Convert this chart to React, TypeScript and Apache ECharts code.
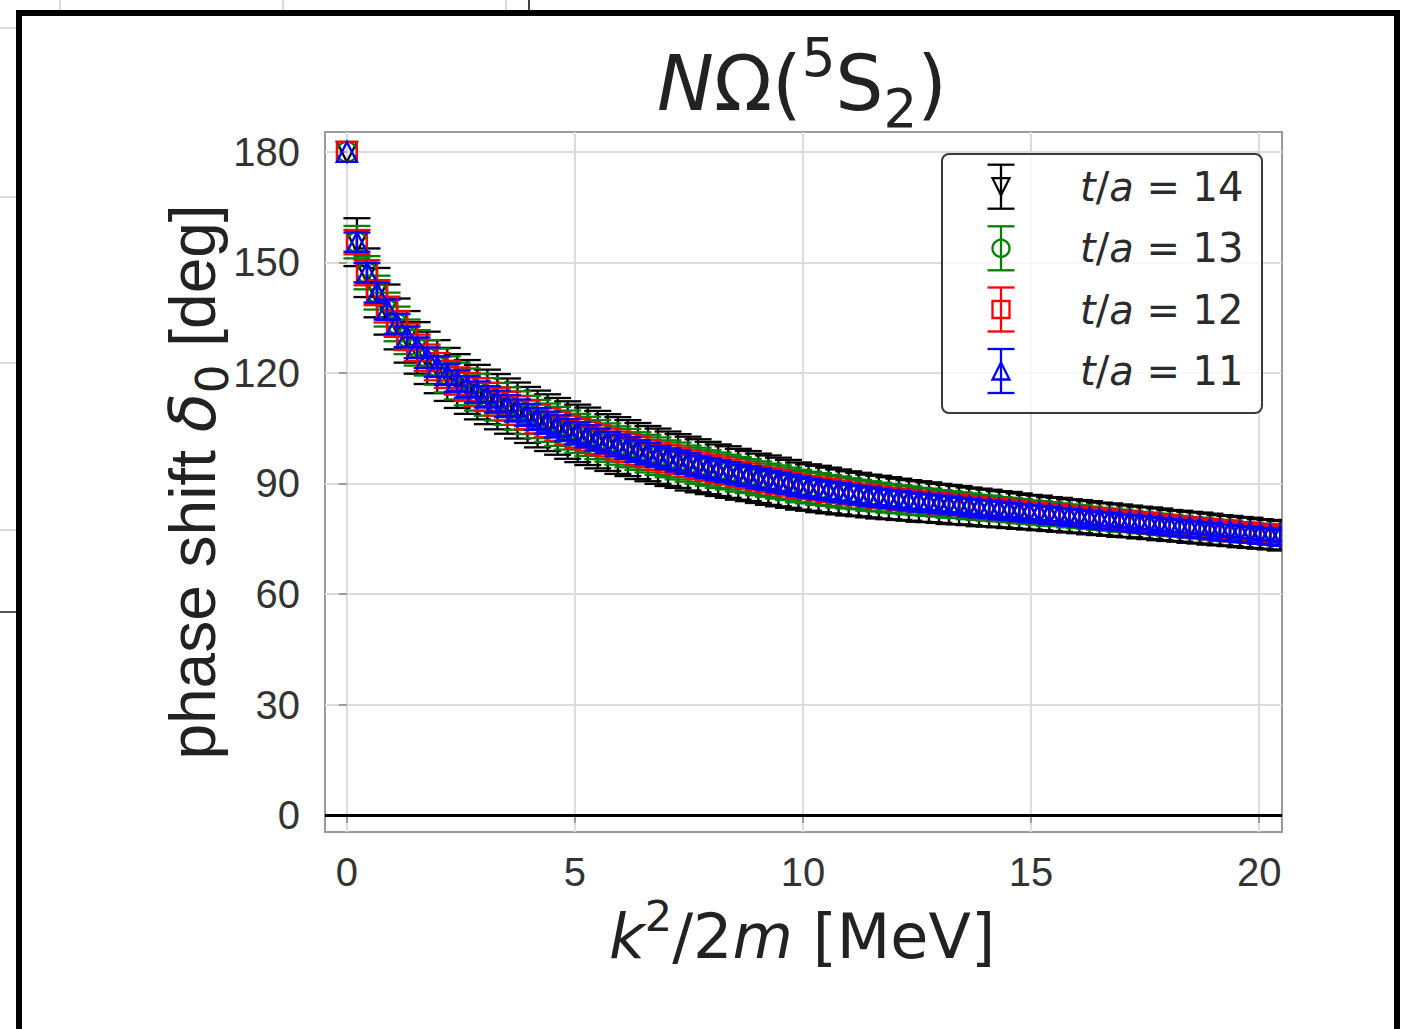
import React, { useEffect, useRef } from "react";
import * as echarts from "echarts";

// k^2/2m [MeV]
const energy = [
  0, 0.22, 0.44, 0.66, 0.88, 1.10, 1.32, 1.54, 1.76, 1.98,
  2.20, 2.42, 2.64, 2.86, 3.08, 3.30, 3.52, 3.74, 3.96, 4.18,
  4.40, 4.62, 4.84, 5.06, 5.28, 5.50, 5.72, 5.94, 6.16, 6.38,
  6.60, 6.82, 7.04, 7.26, 7.48, 7.70, 7.92, 8.14, 8.36, 8.58,
  8.80, 9.02, 9.24, 9.46, 9.68, 9.90, 10.12, 10.34, 10.56, 10.78,
  11.00, 11.22, 11.44, 11.66, 11.88, 12.10, 12.32, 12.54, 12.76, 12.98,
  13.20, 13.42, 13.64, 13.86, 14.08, 14.30, 14.52, 14.74, 14.96, 15.18,
  15.40, 15.62, 15.84, 16.06, 16.28, 16.50, 16.72, 16.94, 17.16, 17.38,
  17.60, 17.82, 18.04, 18.26, 18.48, 18.70, 18.92, 19.14, 19.36, 19.58,
  19.80, 20.02, 20.24, 20.46,
];

// phase shift delta_0 [deg] (central values, common to all t/a)
const phaseShift = [
  180, 155.5, 147.2, 141.8, 137.2, 133.3, 129.8, 126.8, 124.1, 121.7,
  119.6, 117.8, 116.2, 114.8, 113.5, 112.2, 111.0, 109.8, 108.6, 107.5,
  106.5, 105.5, 104.5, 103.6, 102.8, 101.9, 101.1, 100.3, 99.6, 98.8,
  98.1, 97.4, 96.7, 96.1, 95.4, 94.8, 94.2, 93.6, 93.1, 92.5,
  92.0, 91.4, 90.9, 90.4, 89.9, 89.3, 88.9, 88.5, 88.1, 87.7,
  87.3, 87.0, 86.6, 86.3, 86.0, 85.7, 85.4, 85.1, 84.9, 84.6,
  84.3, 84.1, 83.8, 83.5, 83.3, 83.0, 82.8, 82.5, 82.2, 82.0,
  81.7, 81.5, 81.2, 81.0, 80.7, 80.4, 80.2, 79.9, 79.7, 79.4,
  79.2, 78.9, 78.6, 78.4, 78.1, 77.9, 77.6, 77.3, 77.1, 76.8,
  76.6, 76.3, 76.1, 75.8,
];

const errT14 = [
  0, 6.5, 6.6, 6.7, 6.8, 6.9, 7.0, 7.0, 7.1, 7.2,
  7.2, 7.3, 7.3, 7.4, 7.4, 7.5, 7.5, 7.6, 7.6, 7.7,
  7.7, 7.7, 7.8, 7.8, 7.8, 7.8, 7.7, 7.7, 7.6, 7.6,
  7.5, 7.5, 7.4, 7.3, 7.3, 7.2, 7.1, 7.0, 7.0, 6.9,
  6.8, 6.7, 6.7, 6.6, 6.5, 6.4, 6.3, 6.3, 6.2, 6.1,
  6.0, 5.9, 5.8, 5.8, 5.7, 5.6, 5.5, 5.5, 5.4, 5.3,
  5.3, 5.2, 5.1, 5.1, 5.0, 4.9, 4.9, 4.8, 4.7, 4.7,
  4.6, 4.6, 4.5, 4.5, 4.5, 4.4, 4.4, 4.4, 4.3, 4.3,
  4.3, 4.3, 4.2, 4.2, 4.2, 4.2, 4.2, 4.1, 4.1, 4.1,
  4.1, 4.0, 4.0, 4.0,
];

const errT13 = [
  0, 4.4, 4.5, 4.6, 4.6, 4.7, 4.7, 4.8, 4.8, 4.9,
  4.9, 5.0, 5.0, 5.0, 5.1, 5.1, 5.1, 5.2, 5.2, 5.2,
  5.2, 5.3, 5.3, 5.3, 5.3, 5.3, 5.2, 5.2, 5.2, 5.1,
  5.1, 5.1, 5.0, 5.0, 4.9, 4.9, 4.8, 4.8, 4.7, 4.7,
  4.6, 4.6, 4.5, 4.5, 4.4, 4.4, 4.3, 4.3, 4.2, 4.2,
  4.1, 4.0, 4.0, 3.9, 3.9, 3.8, 3.8, 3.7, 3.7, 3.6,
  3.6, 3.5, 3.5, 3.4, 3.4, 3.3, 3.3, 3.3, 3.2, 3.2,
  3.2, 3.1, 3.1, 3.1, 3.0, 3.0, 3.0, 3.0, 2.9, 2.9,
  2.9, 2.9, 2.9, 2.8, 2.8, 2.8, 2.8, 2.8, 2.8, 2.7,
  2.7, 2.7, 2.7, 2.7,
];

const errT12 = [
  0, 3.3, 3.4, 3.4, 3.5, 3.5, 3.6, 3.6, 3.6, 3.7,
  3.7, 3.7, 3.8, 3.8, 3.8, 3.8, 3.9, 3.9, 3.9, 3.9,
  3.9, 3.9, 3.9, 3.9, 3.9, 3.9, 3.8, 3.8, 3.8, 3.8,
  3.7, 3.7, 3.7, 3.6, 3.6, 3.6, 3.5, 3.5, 3.4, 3.4,
  3.4, 3.3, 3.3, 3.3, 3.2, 3.2, 3.1, 3.1, 3.1, 3.0,
  3.0, 2.9, 2.9, 2.9, 2.8, 2.8, 2.8, 2.7, 2.7, 2.7,
  2.6, 2.6, 2.6, 2.5, 2.5, 2.5, 2.4, 2.4, 2.4, 2.4,
  2.3, 2.3, 2.3, 2.3, 2.2, 2.2, 2.2, 2.2, 2.2, 2.1,
  2.1, 2.1, 2.1, 2.1, 2.1, 2.0, 2.0, 2.0, 2.0, 2.0,
  2.0, 2.0, 2.0, 2.0,
];

const errT11 = [
  0, 2.6, 2.6, 2.7, 2.7, 2.7, 2.8, 2.8, 2.8, 2.8,
  2.9, 2.9, 2.9, 2.9, 2.9, 3.0, 3.0, 3.0, 3.0, 3.0,
  3.0, 3.0, 3.0, 3.0, 3.0, 3.0, 2.9, 2.9, 2.9, 2.9,
  2.9, 2.8, 2.8, 2.8, 2.8, 2.7, 2.7, 2.7, 2.7, 2.6,
  2.6, 2.6, 2.5, 2.5, 2.5, 2.5, 2.4, 2.4, 2.4, 2.4,
  2.3, 2.3, 2.3, 2.2, 2.2, 2.2, 2.2, 2.1, 2.1, 2.1,
  2.1, 2.0, 2.0, 2.0, 2.0, 2.0, 1.9, 1.9, 1.9, 1.9,
  1.9, 1.8, 1.8, 1.8, 1.8, 1.8, 1.8, 1.7, 1.7, 1.7,
  1.7, 1.7, 1.7, 1.7, 1.6, 1.6, 1.6, 1.6, 1.6, 1.6,
  1.6, 1.6, 1.6, 1.6,
];

const xTickValues = [0, 5, 10, 15, 20];
const yTickValues = [0, 30, 60, 90, 120, 150, 180];
const timeSlices = ["14", "13", "12", "11"];
const seriesColors = ["#000000", "#008000", "#ff0000", "#0000ff"];
const seriesMarkers = ["triDown", "circle", "square", "triUp"];
const seriesErrors = [errT14, errT13, errT12, errT11];

const X_MIN = -0.48;
const X_MAX = 20.5;
const Y_MIN = -4.6;
const Y_MAX = 185.4;

const MATH_FONT = "DejaVu Sans";
const TICK_FONT = "Liberation Sans";
const LW = 2.3;

function markerShape(kind: string, cx: number, cy: number, h: number, color: string, z?: number) {
  const style = { fill: "none", stroke: color, lineWidth: LW };
  const extra: any = z !== undefined ? { z } : {};
  if (kind === "circle") {
    return { type: "circle", shape: { cx, cy, r: h }, style, ...extra };
  }
  if (kind === "square") {
    return { type: "rect", shape: { x: cx - h, y: cy - h, width: 2 * h, height: 2 * h }, style, ...extra };
  }
  if (kind === "triDown") {
    return {
      type: "polygon",
      shape: { points: [[cx - h, cy - h], [cx + h, cy - h], [cx, cy + h]] },
      style,
      ...extra,
    };
  }
  return {
    type: "polygon",
    shape: { points: [[cx, cy - h], [cx - h, cy + h], [cx + h, cy + h]] },
    style,
    ...extra,
  };
}

function errorbarGlyph(cx: number, yTop: number, yBot: number, cap: number, color: string, z?: number) {
  const style = { stroke: color, lineWidth: LW };
  const extra: any = z !== undefined ? { z } : {};
  return [
    { type: "line", shape: { x1: cx, y1: yTop, x2: cx, y2: yBot }, style, ...extra },
    { type: "line", shape: { x1: cx - cap, y1: yTop, x2: cx + cap, y2: yTop }, style, ...extra },
    { type: "line", shape: { x1: cx - cap, y1: yBot, x2: cx + cap, y2: yBot }, style, ...extra },
  ];
}

function makeRenderItem(color: string, kind: string) {
  return (params: any, api: any) => {
    const x = api.value(0);
    const y = api.value(1);
    const e = api.value(2);
    const c = api.coord([x, y]);
    const children: any[] = [];
    if (e > 0) {
      const top = api.coord([x, y + e]);
      const bot = api.coord([x, y - e]);
      children.push(...errorbarGlyph(c[0], top[1], bot[1], 13.5, color));
    }
    children.push(markerShape(kind, c[0], c[1], 10, color));
    return { type: "group", children };
  };
}

export default function App() {
  const ref = useRef<HTMLDivElement>(null);

  useEffect(() => {
    if (!ref.current) return;
    const chart = echarts.init(ref.current, undefined, { renderer: "svg" });

    const dataSeries = timeSlices.map((t, k) => ({
      name: `t/a = ${t}`,
      type: "custom",
      clip: true,
      coordinateSystem: "cartesian2d",
      renderItem: makeRenderItem(seriesColors[k], seriesMarkers[k]),
      encode: { x: 0, y: 1 },
      data: energy.map((e, i) => [e, phaseShift[i], seriesErrors[k][i]]),
      z: 3 + k,
    }));

    // Legend drawn as graphic elements
    const legendX = 942;
    const legendY = 154;
    const rowY = [186.7, 248.3, 309.5, 371];
    const legendChildren: any[] = [
      {
        type: "rect",
        shape: { x: legendX, y: legendY, width: 320, height: 259, r: 7 },
        style: { fill: "rgba(255,255,255,0.8)", stroke: "#3a3a3a", lineWidth: 2 },
        z: 100,
      },
    ];
    timeSlices.forEach((t, k) => {
      const cy = rowY[k];
      legendChildren.push(...errorbarGlyph(1001, cy - 22, cy + 22, 13.5, seriesColors[k], 101));
      legendChildren.push(markerShape(seriesMarkers[k], 1001, cy, 8.5, seriesColors[k], 102));
      legendChildren.push({
        type: "text",
        z: 103,
        x: 1080,
        y: cy,
        style: {
          text: `{i|t}/{i|a} = ${t}`,
          x: 0,
          y: 0,
          fill: "#2b2b2b",
          fontFamily: MATH_FONT,
          fontSize: 40,
          align: "left",
          verticalAlign: "middle",
          textAlign: "left",
          textVerticalAlign: "middle",
          rich: {
            i: { fontStyle: "italic", fontFamily: MATH_FONT, fontSize: 40, fill: "#2b2b2b" },
          },
        },
      });
    });

    const option: any = {
      animation: false,
      backgroundColor: "#ffffff",
      grid: {
        left: 325,
        top: 132,
        width: 957,
        height: 700,
        show: true,
        borderColor: "#9a9a9a",
        borderWidth: 2,
        backgroundColor: "transparent",
        containLabel: false,
      },
      xAxis: {
        type: "value",
        min: X_MIN,
        max: X_MAX,
        axisLine: { show: false },
        axisTick: {
          show: true,
          inside: false,
          length: 8,
          customValues: xTickValues,
          lineStyle: { color: "#9a9a9a", width: 2 },
        },
        axisLabel: {
          customValues: xTickValues,
          fontFamily: TICK_FONT,
          fontSize: 40,
          color: "#333333",
          margin: 20,
        },
        splitLine: { show: true, lineStyle: { color: "#dcdcdc", width: 2 } },
      },
      yAxis: {
        type: "value",
        min: Y_MIN,
        max: Y_MAX,
        axisLine: { show: false },
        axisTick: {
          show: true,
          inside: false,
          length: 8,
          customValues: yTickValues,
          lineStyle: { color: "#9a9a9a", width: 2 },
        },
        axisLabel: {
          customValues: yTickValues,
          fontFamily: TICK_FONT,
          fontSize: 40,
          color: "#333333",
          margin: 25,
        },
        splitLine: { show: true, lineStyle: { color: "#dcdcdc", width: 2 } },
      },
      series: [
        {
          type: "line",
          data: [],
          silent: true,
          markLine: {
            silent: true,
            symbol: "none",
            label: { show: false },
            lineStyle: { color: "#000000", width: 3, type: "solid" },
            data: [{ yAxis: 0 }],
          },
          z: 2,
        },
        ...dataSeries,
      ],
      graphic: [
        // window frame
        {
          type: "rect",
          shape: { x: 19, y: 13, width: 1378, height: 1100 },
          style: { fill: "none", stroke: "#000000", lineWidth: 6 },
          z: 50,
          silent: true,
        },
        // background sheet lines outside frame
        ...[60, 283, 506].map((x) => ({
          type: "line",
          shape: { x1: x, y1: 0, x2: x, y2: 10 },
          style: { stroke: "#cfcfcf", lineWidth: 1.5 },
          silent: true,
        })),
        {
          type: "line",
          shape: { x1: 529, y1: 0, x2: 529, y2: 10 },
          style: { stroke: "#444444", lineWidth: 2 },
          silent: true,
        },
        ...[28, 197, 363, 530].map((y) => ({
          type: "line",
          shape: { x1: 0, y1: y, x2: 16, y2: y },
          style: { stroke: "#cfcfcf", lineWidth: 1.5 },
          silent: true,
        })),
        {
          type: "line",
          shape: { x1: 0, y1: 612, x2: 16, y2: 612 },
          style: { stroke: "#555555", lineWidth: 2 },
          silent: true,
        },
        // title
        {
          type: "text",
          x: 802,
          y: 83,
          z: 60,
          style: {
            text: "{i|N}{m|Ω(}{sup|5}{m|S}{sub|2}{m|)}",
            x: 0,
            y: 0,
            fill: "#222222",
            fontFamily: MATH_FONT,
            fontSize: 76,
            align: "center",
            verticalAlign: "middle",
            textAlign: "center",
            textVerticalAlign: "middle",
            rich: {
              i: { fontStyle: "italic", fontFamily: MATH_FONT, fontSize: 76, lineHeight: 104, fill: "#222222" },
              m: { fontFamily: MATH_FONT, fontSize: 76, lineHeight: 104, fill: "#222222" },
              sup: { fontFamily: MATH_FONT, fontSize: 53, lineHeight: 53, verticalAlign: "top", fill: "#222222" },
              sub: { fontFamily: MATH_FONT, fontSize: 53, lineHeight: 53, verticalAlign: "bottom", fill: "#222222" },
            },
          },
        },
        // x axis label
        {
          type: "text",
          x: 802,
          y: 936,
          z: 60,
          style: {
            text: "{i|k}{sup|2}{m|/2}{i|m}{m| [MeV]}",
            x: 0,
            y: 0,
            fill: "#222222",
            fontFamily: MATH_FONT,
            fontSize: 62,
            align: "center",
            verticalAlign: "middle",
            textAlign: "center",
            textVerticalAlign: "middle",
            rich: {
              i: { fontStyle: "italic", fontFamily: MATH_FONT, fontSize: 62, lineHeight: 83, fill: "#222222" },
              m: { fontFamily: MATH_FONT, fontSize: 62, lineHeight: 83, fill: "#222222" },
              sup: { fontFamily: MATH_FONT, fontSize: 43, lineHeight: 43, verticalAlign: "top", fill: "#222222" },
            },
          },
        },
        // y axis label
        {
          type: "text",
          x: 193,
          y: 482,
          rotation: Math.PI / 2,
          z: 60,
          style: {
            text: "{a|phase shift }{d|δ}{sub|0}{a| [deg]}",
            x: 0,
            y: 0,
            fill: "#222222",
            fontFamily: TICK_FONT,
            fontSize: 64,
            align: "center",
            verticalAlign: "middle",
            textAlign: "center",
            textVerticalAlign: "middle",
            rich: {
              a: { fontFamily: TICK_FONT, fontSize: 64, lineHeight: 84, fill: "#222222" },
              d: { fontFamily: MATH_FONT, fontStyle: "italic", fontSize: 64, lineHeight: 84, fill: "#222222" },
              sub: { fontFamily: MATH_FONT, fontSize: 45, lineHeight: 45, verticalAlign: "bottom", fill: "#222222" },
            },
          },
        },
        {
          type: "group",
          z: 100,
          children: legendChildren,
        },
      ],
    };

    chart.setOption(option);
    return () => {
      chart.dispose();
    };
  }, []);

  return (
    <div
      ref={ref}
      style={{ position: "absolute", left: 0, top: 0, width: 1404, height: 1029 }}
    />
  );
}
